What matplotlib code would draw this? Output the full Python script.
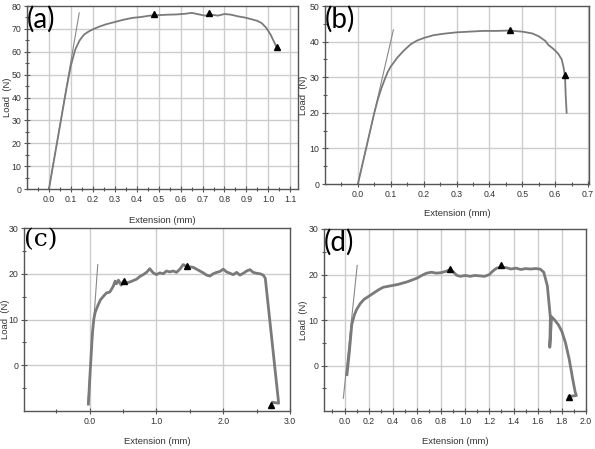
import matplotlib
matplotlib.use("Agg")
import matplotlib.pyplot as plt
from matplotlib.ticker import FixedLocator

# ---------------- data ----------------
# (a)
xa = [0.0, 0.02, 0.04, 0.06, 0.08, 0.10, 0.12, 0.14, 0.16, 0.18, 0.20, 0.23, 0.26, 0.30,
      0.34, 0.38, 0.42, 0.46, 0.50, 0.54, 0.58, 0.62, 0.65, 0.68, 0.71, 0.74, 0.77, 0.80,
      0.83, 0.86, 0.89, 0.92, 0.95, 0.97, 0.99, 1.01, 1.02, 1.03, 1.04]
ya = [0, 11, 22, 33, 44, 54, 61, 65, 67.5, 68.8, 69.8, 71, 72, 73, 74, 74.8, 75.2, 75.8,
      76, 76.2, 76.3, 76.6, 77, 76.4, 75.8, 76.2, 75.8, 76.5, 76.2, 75.5, 75, 74.3, 73.5,
      72.5, 70.5, 67.5, 65.5, 63.5, 61.5]
tan_a_x = [0.0, 0.138]
tan_a_y = [0.0, 77.0]
tri_a_x = [0.48, 0.73, 1.04]
tri_a_y = [76.5, 76.8, 62.0]

# (b)
xb = [0.0, 0.01, 0.02, 0.03, 0.04, 0.05, 0.06, 0.07, 0.08, 0.09, 0.10, 0.12, 0.14, 0.16,
      0.18, 0.20, 0.23, 0.26, 0.30, 0.34, 0.38, 0.42, 0.46, 0.50, 0.53, 0.55, 0.57, 0.58,
      0.59, 0.60, 0.61, 0.62, 0.625, 0.63, 0.632, 0.635]
yb = [0, 4, 8, 12, 16, 20, 23.5, 26.5, 29, 31.3, 33, 35.5, 37.5, 39.2, 40.3, 41, 41.8,
      42.2, 42.6, 42.8, 43, 43, 43.1, 42.8, 42.3, 41.5, 40.2, 39, 38.3, 37.5, 36.5, 35,
      33, 30.5, 25, 20]
tan_b_x = [0.0, 0.108]
tan_b_y = [0.0, 43.3]
tri_b_x = [0.464, 0.629]
tri_b_y = [43.2, 30.6]

# (c)
xc = [-0.02, 0.0, 0.02, 0.04, 0.06, 0.08, 0.12, 0.16, 0.20, 0.25, 0.30, 0.35, 0.38, 0.40,
      0.43, 0.47, 0.50, 0.55, 0.60, 0.65, 0.70, 0.75, 0.80, 0.85, 0.90, 0.95, 1.00, 1.05,
      1.10, 1.15, 1.20, 1.25, 1.30, 1.35, 1.40, 1.45, 1.50, 1.55, 1.60, 1.65, 1.70, 1.75,
      1.80, 1.85, 1.90, 1.95, 2.00, 2.05, 2.10, 2.15, 2.20, 2.25, 2.30, 2.35, 2.40, 2.45,
      2.50, 2.55, 2.60, 2.63, 2.83, 2.74]
yc = [-8.5, -3, 2, 7, 10, 11.5, 13, 14.3, 15, 15.8, 16, 17.2, 18.4, 17.8, 18.6, 17.5,
      18.3, 18, 18.2, 18.5, 18.8, 19.4, 19.8, 20.3, 21.1, 20.2, 19.8, 20.2, 20, 20.6, 20.4,
      20.6, 20.3, 21, 22, 21.6, 21.5, 21.4, 21, 20.6, 20.2, 19.7, 19.5, 20, 20.3, 20.5, 21,
      20.4, 20.1, 19.8, 20.3, 19.7, 20.1, 20.6, 20.9, 20.3, 20.1, 20, 19.7, 19, -8.3, -8.1]
tan_c_x = [-0.03, 0.12]
tan_c_y = [-8.4, 22.0]
tri_c_x = [0.51, 1.46, 2.71]
tri_c_y = [18.5, 21.8, -8.6]

# (d)
xd = [0.02, 0.04, 0.06, 0.08, 0.10, 0.13, 0.16, 0.20, 0.24, 0.28, 0.32, 0.36, 0.40, 0.44,
      0.48, 0.52, 0.56, 0.60, 0.64, 0.68, 0.72, 0.76, 0.80, 0.84, 0.87, 0.90, 0.93, 0.96,
      1.00, 1.04, 1.08, 1.12, 1.16, 1.20, 1.23, 1.26, 1.30, 1.34, 1.38, 1.42, 1.46, 1.50,
      1.54, 1.58, 1.62, 1.65, 1.68, 1.705, 1.70, 1.715, 1.74, 1.77, 1.80, 1.83, 1.86,
      1.89, 1.91, 1.92, 1.86]
yd = [-2, 3, 9, 11, 12.3, 13.6, 14.5, 15.2, 15.9, 16.6, 17.2, 17.4, 17.6, 17.8, 18.1,
      18.4, 18.8, 19.2, 19.8, 20.3, 20.5, 20.3, 20.4, 20.7, 21, 20.6, 19.8, 19.6, 19.8,
      19.6, 19.8, 19.7, 19.6, 20, 20.8, 21.4, 21.6, 21.5, 21.2, 21.4, 21.1, 21.3, 21.2,
      21.3, 21.2, 20.5, 17.5, 10.5, 4, 10.7, 10, 9, 7.5, 5, 1.5, -3, -5.8, -6.6, -6.8]
tan_d_x = [-0.01, 0.105]
tan_d_y = [-7.2, 22.0]
tri_d_x = [0.87, 1.30, 1.86]
tri_d_y = [21.1, 22.0, -7.0]

# ---------------- styling ----------------
TICK_FONT = "Liberation Sans"
LBL_COLOR = "#333333"
CURVE = "#7a7a7a"
GRID = "#cccccc"
SPINE = "#555555"

fig = plt.figure(figsize=(5.95, 4.49), dpi=100)
fig.patch.set_facecolor("white")


def setup(ax, xlim, ylim, xmaj, xmin, ymaj, ymin, xlabels, ylabels, xgrid, ygrid,
          ylab_x, xlab_y):
    ax.set_xlim(*xlim)
    ax.set_ylim(*ylim)
    ax.xaxis.set_major_locator(FixedLocator(xmaj))
    ax.xaxis.set_minor_locator(FixedLocator(xmin))
    ax.yaxis.set_major_locator(FixedLocator(ymaj))
    ax.yaxis.set_minor_locator(FixedLocator(ymin))
    ax.set_xticklabels(xlabels, fontsize=6.3, family=TICK_FONT, color=LBL_COLOR)
    ax.set_yticklabels(ylabels, fontsize=6.3, family=TICK_FONT, color=LBL_COLOR)
    for g in xgrid:
        ax.axvline(g, color=GRID, lw=1.0, zorder=0)
    for g in ygrid:
        ax.axhline(g, color=GRID, lw=1.0, zorder=0)
    ax.tick_params(which="both", direction="inout", color=SPINE, pad=2)
    ax.tick_params(which="major", length=4, width=0.8)
    ax.tick_params(which="minor", length=3, width=0.8)
    for s in ax.spines.values():
        s.set_color(SPINE)
        s.set_linewidth(1.0)
    ax.set_xlabel("Extension (mm)", fontsize=6.8, family=TICK_FONT, color=LBL_COLOR,
                  va="center")
    ax.set_ylabel("Load  (N)", fontsize=6.8, family=TICK_FONT, color=LBL_COLOR,
                  va="center")
    ax.xaxis.set_label_coords(0.5, xlab_y)
    ax.yaxis.set_label_coords(ylab_x, 0.5)


# (a)
axa = fig.add_axes([27 / 595, 1 - 189 / 449, 271 / 595, 183 / 449])
xt = [round(0.1 * i, 1) for i in range(0, 12)]
setup(axa, (-0.1, 1.135), (0, 80), xt,
      [round(-0.05 + 0.1 * i, 2) for i in range(0, 12)],
      list(range(0, 81, 10)), list(range(5, 80, 10)),
      [f"{v:.1f}" for v in xt], [str(v) for v in range(0, 81, 10)],
      [round(-0.1 + 0.1 * i, 1) for i in range(0, 13)], list(range(10, 80, 10)),
      (7 - 27) / 271, -(220 - 189) / 183)
axa.plot(tan_a_x, tan_a_y, color="#888888", lw=0.8)
axa.plot(xa, ya, color=CURVE, lw=1.3)
axa.plot(tri_a_x, tri_a_y, "^", color="black", ms=4.5)
axa.text(0.0, 1.0, "(a)", transform=axa.transAxes, ha="left", va="top",
         fontsize=20, family="Lato", color="black")

# (b)
axb = fig.add_axes([325 / 595, 1 - 184 / 449, 264 / 595, 178 / 449])
xt = [round(0.1 * i, 1) for i in range(0, 8)]
setup(axb, (-0.1, 0.703), (0, 50), xt,
      [round(-0.05 + 0.1 * i, 2) for i in range(0, 8)],
      list(range(0, 51, 10)), list(range(5, 50, 10)),
      [f"{v:.1f}" for v in xt], [str(v) for v in range(0, 51, 10)],
      [round(0.1 * i, 1) for i in range(0, 8)], list(range(10, 50, 10)),
      (304 - 325) / 264, -(214 - 184) / 178)
axb.plot(tan_b_x, tan_b_y, color="#888888", lw=0.8)
axb.plot(xb, yb, color=CURVE, lw=1.3)
axb.plot(tri_b_x, tri_b_y, "^", color="black", ms=4.5)
axb.text(0.0, 1.0, "(b)", transform=axb.transAxes, ha="left", va="top",
         fontsize=20, family="Lato", color="black")

# (c)
axc = fig.add_axes([24 / 595, 1 - 411 / 449, 266 / 595, 183 / 449])
xt = [0.0, 1.0, 2.0, 3.0]
setup(axc, (-0.985, 3.0), (-10, 30), xt, [-0.5, 0.5, 1.5, 2.5],
      [0, 10, 20, 30], [-5, 5, 15, 25],
      [f"{v:.1f}" for v in xt], ["0", "10", "20", "30"],
      [0.0, 1.0, 2.0], [0, 10, 20],
      (5 - 24) / 266, -(442 - 411) / 183)
axc.plot(tan_c_x, tan_c_y, color="#888888", lw=0.8)
axc.plot(xc, yc, color=CURVE, lw=2.0)
axc.plot(tri_c_x, tri_c_y, "^", color="black", ms=4.5)
axc.text(0.0, 1.0, "(c)", transform=axc.transAxes, ha="left", va="top",
         fontsize=18, family="DejaVu Serif", color="black")

# (d)
axd = fig.add_axes([324 / 595, 1 - 411 / 449, 262 / 595, 182 / 449])
xt = [round(0.2 * i, 1) for i in range(0, 11)]
setup(axd, (-0.17, 2.0), (-10, 30), xt,
      [round(-0.1 + 0.2 * i, 1) for i in range(0, 11)],
      [0, 10, 20, 30], [-5, 5, 15, 25],
      [f"{v:.1f}" for v in xt], ["0", "10", "20", "30"],
      xt[:-1], [0, 10, 20],
      (304 - 324) / 262, -(442 - 411) / 182)
axd.plot(tan_d_x, tan_d_y, color="#888888", lw=0.8)
axd.plot(xd, yd, color=CURVE, lw=2.0)
axd.plot(tri_d_x, tri_d_y, "^", color="black", ms=4.5)
axd.text(0.0, 1.0, "(d)", transform=axd.transAxes, ha="left", va="top",
         fontsize=20, family="Lato", color="black")

fig.savefig("out.png", dpi=100)
